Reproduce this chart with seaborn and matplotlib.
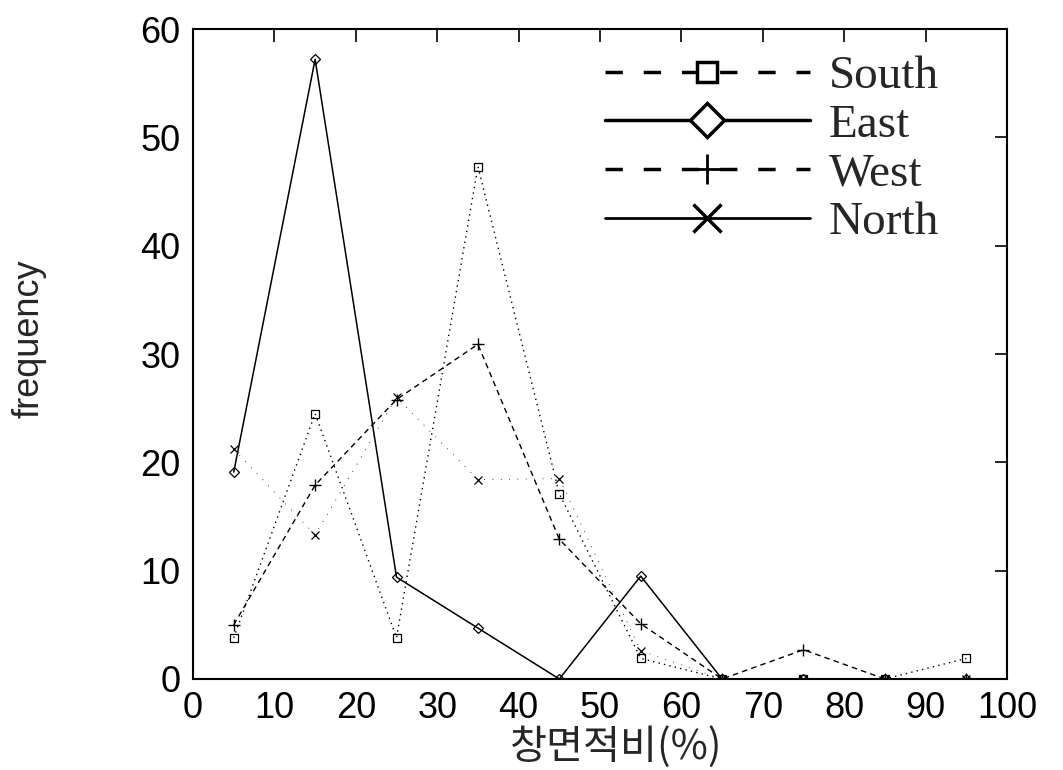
import matplotlib
matplotlib.use('Agg')
import matplotlib.pyplot as plt
from matplotlib.lines import Line2D
import seaborn as sns

# values
ratio = [5, 15, 25, 35, 45, 55, 65, 75, 85, 95]
south = [3.8, 24.5, 3.8, 47.3, 17.1, 1.9, 0, 0, 0, 1.9]
east = [19.1, 57.2, 9.4, 4.7, 0, 9.5, 0, 0, 0, 0]
west = [5.0, 17.9, 25.8, 30.9, 12.9, 5.1, 0, 2.7, 0, 0]
north = [21.2, 13.3, 26.0, 18.4, 18.5, 2.6, 0, 0, 0, 0]
labels = ['South', 'East', 'West', 'North']

sns.set_style('white')
plt.rcParams['font.family'] = ['Liberation Sans', 'DejaVu Sans']

fig = plt.figure(figsize=(10.63, 7.70), dpi=100)
ax = fig.add_axes([0.1816, 0.1182, 0.7657, 0.8441])

# data lines
sns.lineplot(x=ratio, y=south, ax=ax, color='k', lw=1.0, linestyle=(0, (1, 3)),
             marker='s', ms=6, mfc='none', mec='k', mew=0.9)
sns.lineplot(x=ratio, y=east, ax=ax, color='k', lw=1.1, linestyle='-',
             marker='D', ms=5, mfc='none', mec='k', mew=0.9)
sns.lineplot(x=ratio, y=west, ax=ax, color='k', lw=1.0, linestyle=(0, (4, 3)),
             marker='+', ms=8, mec='k', mew=1.0)
sns.lineplot(x=ratio, y=north, ax=ax, color='k', lw=0.6, linestyle=(0, (1, 9)),
             marker='x', ms=6, mec='k', mew=0.9)

ax.set_xlim(0, 100)
ax.set_ylim(0, 60)
ax.set_xticks(range(0, 101, 10))
ax.set_yticks(range(0, 61, 10))
ax.tick_params(direction='in', length=9, width=1.2, top=True, right=True,
               labelsize=26, pad=9, colors='k')
for s in ax.spines.values():
    s.set_color('k')
    s.set_linewidth(1.5)

ax.set_ylabel('frequency', fontsize=26)
ax.yaxis.set_label_coords(-0.18, 0.523)
ax.set_xlabel('창면적비(%)', fontsize=29, family=['Noto Sans CJK KR', 'DejaVu Sans'])
ax.xaxis.set_label_coords(0.52, -0.072)

# legend drawn like the original
handles = [
    Line2D([], [], color='k', lw=2.5, linestyle=(0, (5, 6)), marker='s', ms=14,
           mfc='white', mec='k', mew=2.5),
    Line2D([], [], color='k', lw=2.5, linestyle='-', marker='D', ms=17,
           mfc='white', mec='k', mew=2.5),
    Line2D([], [], color='k', lw=2.5, linestyle=(0, (5, 6)), marker='+', ms=22,
           mec='k', mew=2.0),
    Line2D([], [], color='k', lw=2.0, linestyle='-', marker='x', ms=20,
           mec='k', mew=2.5),
]
ax.legend(handles, labels, loc='upper left', bbox_to_anchor=(0.506, 0.96),
          frameon=False, prop={'family': 'Liberation Serif', 'size': 34},
          handlelength=4.34, handletextpad=0.4, labelspacing=0.12,
          borderpad=0, borderaxespad=0)

fig.savefig('out.png', dpi=100, facecolor='white')
